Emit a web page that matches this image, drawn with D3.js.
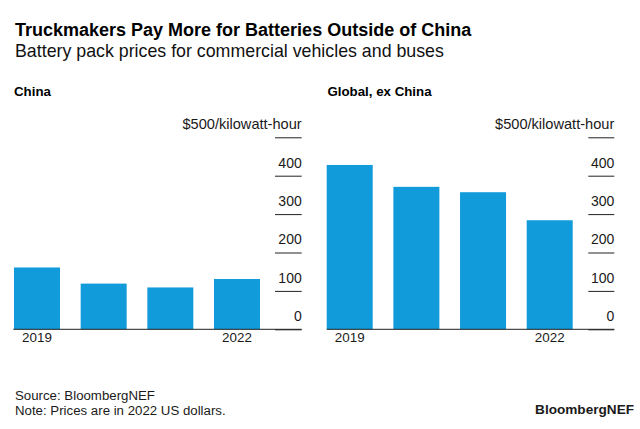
<!DOCTYPE html>
<html>
<head>
<meta charset="utf-8">
<script src="https://cdn.jsdelivr.net/npm/d3@7"></script>
<style>
  html, body { margin: 0; padding: 0; background: #fff; }
  svg { display: block; font-family: "Liberation Sans", Arial, sans-serif; }
</style>
</head>
<body>
<svg id="chart" width="640" height="429"></svg>
<script>
// ---- data ----
const years = ["2019", "2020", "2021", "2022"];
const yearLabels = ["2019", "2022"];
const chinaValues = [161, 119, 109, 131];
const globalExChinaValues = [428, 371, 357, 284];
const yTicks = [0, 100, 200, 300, 400, 500];
const panelTitles = ["China", "Global, ex China"];

const svg = d3.select("#chart");
const barColor = "#129bdb";
const ink = "#1a1a1a";

// headings
svg.append("text").attr("x", 15).attr("y", 35.5)
  .attr("font-size", 18).attr("font-weight", "bold").attr("fill", "#000")
  .text("Truckmakers Pay More for Batteries Outside of China");
svg.append("text").attr("x", 15).attr("y", 56.5)
  .attr("font-size", 17.8).attr("fill", "#111")
  .text("Battery pack prices for commercial vehicles and buses");

// footer
svg.append("text").attr("x", 15).attr("y", 399.5).attr("font-size", 13.25).attr("fill", ink)
  .text("Source: BloombergNEF");
svg.append("text").attr("x", 15).attr("y", 414.5).attr("font-size", 13.25).attr("fill", ink)
  .text("Note: Prices are in 2022 US dollars.");
svg.append("text").attr("x", 634).attr("y", 413.5).attr("font-size", 13.6)
  .attr("font-weight", "bold").attr("text-anchor", "end").attr("fill", ink)
  .text("BloombergNEF");

const y = d3.scaleLinear().domain([0, 500]).range([329.3, 137.3]);

const panels = [
  { title: panelTitles[0], values: chinaValues, left: 13.3, barStart: 14, axisX: 301.7, tickLen: 26.7 },
  { title: panelTitles[1], values: globalExChinaValues, left: 326.7, barStart: 326.7, axisX: 614.3, tickLen: 26 }
];

panels.forEach(p => {
  const g = svg.append("g");
  const x = d3.scaleBand().domain(years)
    .range([p.barStart, p.barStart + 246]).paddingInner(0.31).paddingOuter(0);

  g.append("text").attr("x", p.left + 0.7).attr("y", 95.7)
    .attr("font-size", 13.3).attr("font-weight", "bold").attr("fill", "#000")
    .text(p.title);

  g.selectAll("rect.bar").data(p.values).join("rect")
    .attr("class", "bar")
    .attr("x", (d, i) => x(years[i]))
    .attr("width", x.bandwidth())
    .attr("y", d => y(d))
    .attr("height", d => y(0) - y(d))
    .attr("fill", barColor);

  // y axis (ticks drawn as short gridlines, labels above)
  const axis = d3.axisLeft(y).tickValues(yTicks).tickSize(p.tickLen).tickPadding(0)
    .tickFormat(d => d === 500 ? "$500/kilowatt-hour" : d3.format("d")(d));
  const ag = g.append("g").attr("transform", `translate(${p.axisX},0)`).call(axis);
  ag.select(".domain").remove();
  ag.selectAll(".tick line").attr("stroke", "#222").attr("stroke-width", 1);
  ag.selectAll(".tick text")
    .attr("x", 0).attr("dy", null).attr("y", -8.6)
    .attr("text-anchor", "end")
    .attr("font-size", d => d === 500 ? 14.6 : 14)
    .attr("font-family", "Liberation Sans, Arial, sans-serif")
    .attr("fill", ink);

  // baseline
  g.append("line")
    .attr("x1", p.left).attr("x2", p.axisX)
    .attr("y1", y(0)).attr("y2", y(0))
    .attr("stroke", "#222").attr("stroke-width", 1);

  // x labels
  g.selectAll("text.xl").data(yearLabels).join("text")
    .attr("class", "xl")
    .attr("x", d => x(d) + x.bandwidth() / 2)
    .attr("y", 342)
    .attr("text-anchor", "middle")
    .attr("font-size", 13.4).attr("fill", ink)
    .text(d => d);
});
</script>
</body>
</html>
